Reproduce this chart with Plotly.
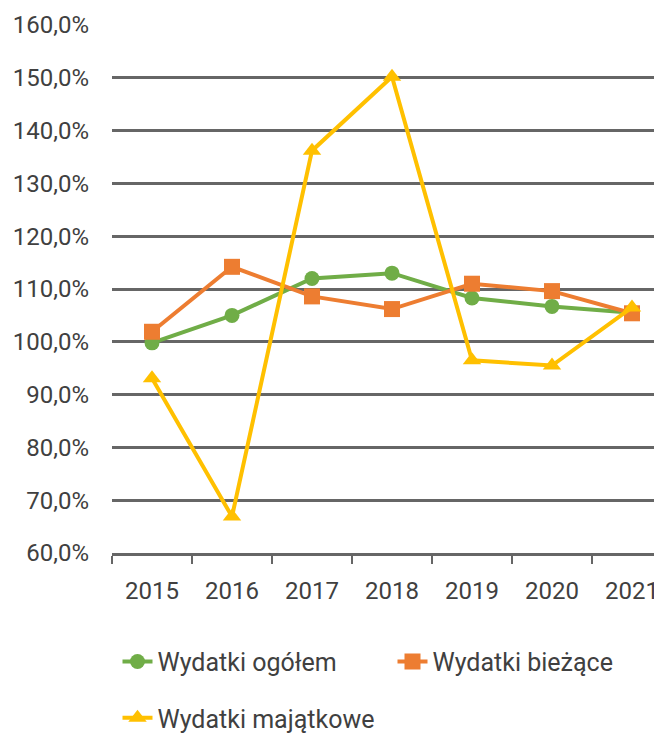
import plotly.graph_objects as go

years = ["2015", "2016", "2017", "2018", "2019", "2020", "2021"]
ogolem = [99.8, 105.0, 112.0, 113.0, 108.3, 106.7, 105.5]
biezace = [101.9, 114.2, 108.6, 106.2, 111.0, 109.6, 105.4]
majatkowe = [93.1, 66.9, 136.2, 150.2, 96.5, 95.5, 106.5]

font_family = "Roboto, Liberation Sans, Arial"
text_color = "#404040"

fig = go.Figure()

fig.add_trace(go.Scatter(
    x=years, y=ogolem, name="Wydatki ogółem", mode="lines+markers",
    line=dict(color="#70AD47", width=4),
    marker=dict(symbol="circle", size=15, color="#70AD47"),
    legend="legend"
))
fig.add_trace(go.Scatter(
    x=years, y=biezace, name="Wydatki bieżące", mode="lines+markers",
    line=dict(color="#ED7D31", width=4),
    marker=dict(symbol="square", size=16, color="#ED7D31"),
    legend="legend"
))
fig.add_trace(go.Scatter(
    x=years, y=majatkowe, name="Wydatki majątkowe", mode="lines+markers",
    line=dict(color="#FFC000", width=4),
    marker=dict(symbol="triangle-up", size=16, color="#FFC000"),
    legend="legend2"
))

legend_style = dict(
    orientation="h",
    xanchor="left",
    yanchor="middle",
    font=dict(family=font_family, size=25, color=text_color),
    bgcolor="rgba(0,0,0,0)",
    entrywidth=230,
    entrywidthmode="pixels",
    traceorder="normal",
)

# the page body has an 8px margin, so the figure is 8px smaller on each side
fig.update_layout(
    width=654,
    height=727,
    template="plotly_white",
    plot_bgcolor="white",
    paper_bgcolor="white",
    separators=", ",
    margin=dict(l=104, r=0, t=17, b=182, autoexpand=False),
    font=dict(family=font_family, size=24, color=text_color),
    legend=dict(x=0.01, y=-0.206, **legend_style),
    legend2=dict(x=0.01, y=-0.3125, **legend_style),
    xaxis=dict(
        type="category",
        range=[-0.5, 6.375],
        automargin=False,
        showgrid=False,
        showline=True,
        linecolor="#666666",
        linewidth=2.5,
        ticks="outside",
        tickson="boundaries",
        ticklen=8,
        tickwidth=2,
        tickcolor="#666666",
        ticklabelstandoff=14,
        tickfont=dict(family=font_family, size=24, color=text_color),
    ),
    yaxis=dict(
        range=[60, 160],
        dtick=10,
        tick0=60,
        tickformat=".1f",
        ticksuffix="%",
        automargin=False,
        showgrid=True,
        gridcolor="#666666",
        gridwidth=2.5,
        zeroline=False,
        showline=False,
        ticklabelstandoff=22,
        tickfont=dict(family=font_family, size=24, color=text_color),
    ),
)

fig.write_html("out.html")
